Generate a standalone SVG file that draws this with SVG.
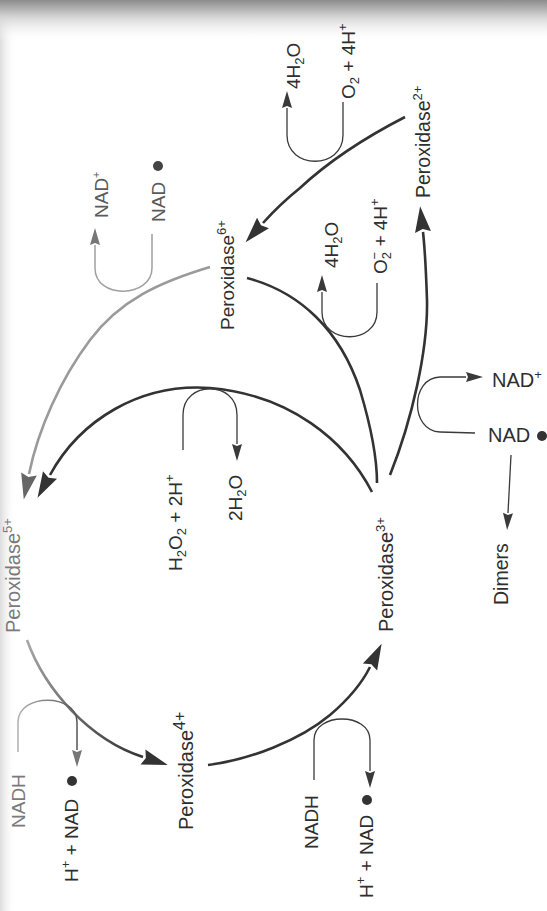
<svg xmlns="http://www.w3.org/2000/svg" width="547" height="911" viewBox="0 0 547 911">
<style>
.t{font-family:"Liberation Sans",Arial,sans-serif;font-size:19px;fill:#2e2e2e}
.g{fill:#7a7a7a}
.l{fill:#5a5a5a}
.sup{font-size:13px}
.sub{font-size:13px}
.main{fill:none;stroke:#333;stroke-width:2.6}
.light{fill:none;stroke:#9a9a9a;stroke-width:2.6}
.thin{fill:none;stroke:#3a3a3a;stroke-width:1.3}
.thinl{fill:none;stroke:#a0a0a0;stroke-width:1.5}
</style>
<defs>
<linearGradient id="topshade" x1="0" y1="0" x2="0" y2="1">
<stop offset="0" stop-color="#8c8c8c"/>
<stop offset="0.4" stop-color="#d4d4d4"/>
<stop offset="1" stop-color="#ffffff" stop-opacity="0"/>
</linearGradient>
<linearGradient id="leftshade" x1="0" y1="0" x2="1" y2="0">
<stop offset="0" stop-color="#dcdcdc"/>
<stop offset="1" stop-color="#ffffff" stop-opacity="0"/>
</linearGradient>
<linearGradient id="g54" gradientUnits="userSpaceOnUse" x1="27" y1="640" x2="143" y2="757">
<stop offset="0" stop-color="#a8a8a8"/>
<stop offset="1" stop-color="#333"/>
</linearGradient>
<linearGradient id="gnadh" gradientUnits="userSpaceOnUse" x1="18" y1="0" x2="77" y2="0">
<stop offset="0" stop-color="#b0b0b0"/>
<stop offset="1" stop-color="#555"/>
</linearGradient>
<marker id="ab" markerUnits="userSpaceOnUse" markerWidth="30" markerHeight="18" refX="0" refY="8" orient="auto" overflow="visible">
<path d="M0,0 L26,8 L0,16 L3,8 Z" fill="#333"/>
</marker>
<marker id="abl" markerUnits="userSpaceOnUse" markerWidth="30" markerHeight="18" refX="0" refY="8" orient="auto" overflow="visible">
<path d="M0,0 L26,8 L0,16 L3,8 Z" fill="#666"/>
</marker>
<marker id="at" markerUnits="userSpaceOnUse" markerWidth="20" markerHeight="12" refX="0" refY="5" orient="auto" overflow="visible">
<path d="M0,0 L17,5 L0,10 L2,5 Z" fill="#3a3a3a"/>
</marker>
<marker id="atl" markerUnits="userSpaceOnUse" markerWidth="20" markerHeight="12" refX="0" refY="5" orient="auto" overflow="visible">
<path d="M0,0 L17,5 L0,10 L2,5 Z" fill="#777"/>
</marker>
</defs>

<rect x="0" y="0" width="547" height="911" fill="#fff"/>
<rect x="0" y="0" width="16" height="911" fill="url(#leftshade)"/>
<rect x="0" y="0" width="547" height="42" fill="url(#topshade)"/>

<g id="connectors">
<path class="main" d="M390,475 C412,420 428,350 427,300 C426,270 425,250 423,232" marker-end="url(#ab)"/>
<path class="main" d="M405,117 C370,135 330,160 300,188 C285,200 272,213 263,223" marker-end="url(#ab)"/>
<path class="main" d="M247,278 C300,292 340,330 360,390 C372,430 377,460 377,483"/>
<path class="light" d="M210,267 C160,282 120,300 90,340 C60,380 38,430 29,474" marker-end="url(#abl)"/>
<path class="main" d="M372,492 C345,440 290,395 210,388 C140,383 80,420 50,475" marker-end="url(#ab)"/>
<path fill="none" stroke="url(#g54)" stroke-width="2.6" d="M27,640 C45,690 90,740 143,757" marker-end="url(#ab)"/>
<path class="main" d="M208,765 C250,760 300,740 330,715 C350,698 362,683 370,667" marker-end="url(#ab)"/>

<path class="thinl" d="M152,234 L152,268 C152,298 95,300 95,268 L95,245" marker-end="url(#atl)"/>
<path class="thin" d="M343,102 L343,135 C343,170 287,170 287,135 L287,108" marker-end="url(#at)"/>
<path class="thin" d="M377,283 L377,312 C377,345 322,345 322,312 L322,292" marker-end="url(#at)"/>
<path class="thin" d="M183,450 L183,415 C183,380 237,380 237,415 L237,444" marker-end="url(#at)"/>
<path class="thin" d="M475,433 L440,432 C410,431 410,378 440,377 L466,377" marker-end="url(#at)"/>
<path fill="none" stroke="url(#gnadh)" stroke-width="1.5" d="M18,752 L18,722 C18,693 77,693 77,722 L77,750" marker-end="url(#atl)"/>
<path class="thin" d="M314,780 L314,740 C314,712 370,712 370,740 L370,771" marker-end="url(#at)"/>
<path class="thin" d="M511,455 L508,513" marker-end="url(#at)"/>
</g>

<g id="peroxidase2">
<text class="t" style="font-size:19.5px" transform="translate(430,198) rotate(-90)">Peroxidase<tspan class="sup" dy="-8">2+</tspan></text>
</g>
<g id="peroxidase6">
<text class="t" style="font-size:19px" transform="translate(234,330) rotate(-90)">Peroxidase<tspan class="sup" dy="-8">6+</tspan></text>
</g>
<g id="peroxidase5">
<text class="t g" style="font-size:20px" transform="translate(20,633) rotate(-90)">Peroxidase<tspan class="sup" dy="-8">5+</tspan></text>
</g>
<g id="peroxidase4">
<text class="t" style="font-size:20px" transform="translate(193,830) rotate(-90)">Peroxidase<tspan class="sup" style="font-size:16px" dy="-8">4+</tspan></text>
</g>
<g id="peroxidase3">
<text class="t" style="font-size:20px" transform="translate(393,632) rotate(-90)">Peroxidase<tspan class="sup" dy="-8">3+</tspan></text>
</g>

<g id="nadplus-top">
<text class="t l" style="font-size:19px" transform="translate(108,218) rotate(-90)">NAD<tspan class="sup" style="font-size:11px" dy="-8">+</tspan></text>
</g>
<g id="nadrad-top">
<text class="t l" style="font-size:19px" transform="translate(165,222) rotate(-90)">NAD</text>
<circle cx="158" cy="166" r="5" fill="#444"/>
</g>
<g id="h2o-top">
<text class="t" style="font-size:19px" transform="translate(300,89) rotate(-90)">4H<tspan class="sub" dy="4">2</tspan><tspan dy="-4">O</tspan></text>
</g>
<g id="o2-top">
<text class="t" style="font-size:19px" transform="translate(355,99) rotate(-90)">O<tspan class="sub" dy="4">2</tspan><tspan dy="-4"> + 4H</tspan><tspan class="sup" dy="-8">+</tspan></text>
</g>
<g id="h2o-mid">
<text class="t" style="font-size:19px" transform="translate(338,268) rotate(-90)">4H<tspan class="sub" dy="4">2</tspan><tspan dy="-4">O</tspan></text>
</g>
<g id="o2minus">
<text class="t" style="font-size:19px" transform="translate(387,274) rotate(-90)">O<tspan class="sub" dy="4">2</tspan><tspan class="sup" dx="-7.5" dy="-12">−</tspan><tspan dy="8"> + 4H</tspan><tspan class="sup" dy="-8">+</tspan></text>
</g>
<g id="h2o2">
<text class="t" style="font-size:19px" transform="translate(182,571) rotate(-90)">H<tspan class="sub" dy="4">2</tspan><tspan dy="-4">O</tspan><tspan class="sub" dy="4">2</tspan><tspan dy="-4"> + 2H</tspan><tspan class="sup" dy="-8">+</tspan></text>
</g>
<g id="h2o-2">
<text class="t" style="font-size:19px" transform="translate(242,521) rotate(-90)">2H<tspan class="sub" dy="4">2</tspan><tspan dy="-4">O</tspan></text>
</g>
<g id="nadplus-right">
<text class="t" x="492" y="387" style="font-size:20px">NAD<tspan class="sup" dy="-8">+</tspan></text>
</g>
<g id="nadrad-right">
<text class="t" x="488" y="442" style="font-size:20px">NAD</text>
<circle cx="542" cy="436" r="5" fill="#333"/>
</g>
<g id="dimers">
<text class="t" style="font-size:19.5px" transform="translate(508,605) rotate(-90)">Dimers</text>
</g>
<g id="nadh-left">
<text class="t g" style="font-size:19px" transform="translate(25,828) rotate(-90)">NADH</text>
</g>
<g id="hnad-left">
<text class="t" style="font-size:19px" transform="translate(78,882) rotate(-90)">H<tspan class="sup" dy="-8">+</tspan><tspan dy="8"> + NAD</tspan></text>
<circle cx="72" cy="781" r="5" fill="#333"/>
</g>
<g id="nadh-right">
<text class="t" style="font-size:19px" transform="translate(318,849) rotate(-90)">NADH</text>
</g>
<g id="hnad-right">
<text class="t" style="font-size:19px" transform="translate(373,898) rotate(-90)">H<tspan class="sup" dy="-8">+</tspan><tspan dy="8"> + NAD</tspan></text>
<circle cx="367" cy="800" r="5" fill="#333"/>
</g>
</svg>
